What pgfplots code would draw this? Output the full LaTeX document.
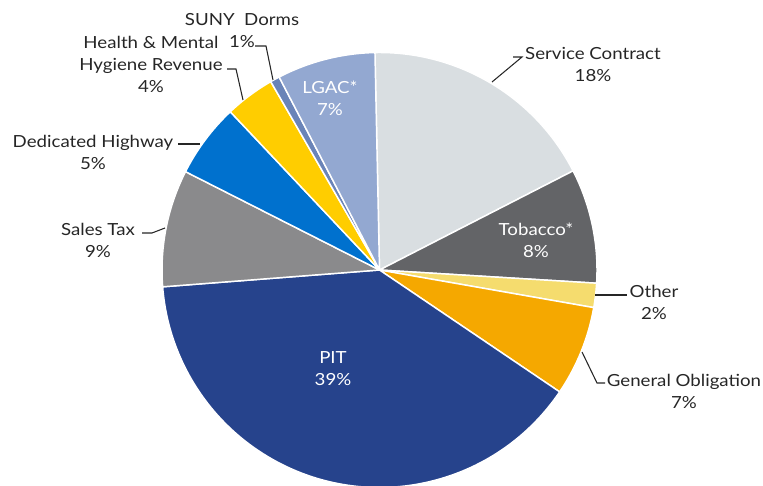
\documentclass[border=0pt]{standalone}
\usepackage{pgfplots}
\usepackage{pgfplotstable}
\pgfplotsset{compat=1.18}
\usepackage{fontspec}
\setmainfont{Lato}[FakeStretch=1.12]
\definecolor{cService}{HTML}{D9DEE1}
\definecolor{cTobacco}{HTML}{636467}
\definecolor{cOther}{HTML}{F5DC6E}
\definecolor{cGO}{HTML}{F5A800}
\definecolor{cPIT}{HTML}{26438C}
\definecolor{cSales}{HTML}{8A8A8C}
\definecolor{cHighway}{HTML}{0071CE}
\definecolor{cHealth}{HTML}{FFCD00}
\definecolor{cSUNY}{HTML}{6A84B8}
\definecolor{cLGAC}{HTML}{93A8D1}
\definecolor{txt}{HTML}{262626}
\pgfplotstableread{
value color
17.8 cService
8.5 cTobacco
1.8 cOther
6.7 cGO
39.3 cPIT
8.7 cSales
5.5 cHighway
3.7 cHealth
0.7 cSUNY
7.3 cLGAC
}\piedata
\begin{document}
\begin{tikzpicture}[font=\fontsize{12.5}{16.5}\selectfont]
\begin{axis}[
  x=0.75pt, y=0.75pt,
  xmin=0, xmax=763, ymin=0, ymax=485,
  enlargelimits=false,
  hide axis,
  clip=true,
]
\path (axis cs:0,0) rectangle (axis cs:763,485);
\pgfplotstablegetrowsof{\piedata}
\pgfmathtruncatemacro\nrows{\pgfplotsretval-1}
\def\cum{91.2}
\pgfplotsforeachungrouped \i in {0,...,\nrows}{%
  \pgfplotstablegetelem{\i}{value}\of\piedata \let\sliceval\pgfplotsretval
  \pgfplotstablegetelem{\i}{color}\of\piedata \let\slicecol\pgfplotsretval
  \pgfmathsetmacro\endang{\cum-3.6*\sliceval}%
  \pgfmathsetmacro\sx{379.5+217.5*cos(\cum)}%
  \pgfmathsetmacro\sy{215+217.5*sin(\cum)}%
  \edef\temp{\noexpand\fill[\slicecol, draw=white, line width=1.1pt, line join=round]
    (axis cs:379.5,215) -- (axis cs:\sx,\sy)
    arc[start angle=\cum, end angle=\endang, radius=163.125pt] -- cycle;}%
  \temp
  \global\let\cum\endang
}
% leader lines
\draw[txt, line width=0.8pt] (axis cs:255,439) -- (axis cs:266,439) -- (axis cs:273,405);
\draw[txt, line width=0.8pt] (axis cs:227,416) -- (axis cs:236,416) -- (axis cs:243,385);
\draw[txt, line width=0.8pt] (axis cs:178,341) -- (axis cs:200,341);
\draw[txt, line width=0.8pt] (axis cs:142,252) -- (axis cs:152,252) -- (axis cs:165,257);
\draw[txt, line width=0.8pt] (axis cs:513,428) -- (axis cs:522,428) -- (axis cs:492,403);
\draw[txt, line width=0.8pt] (axis cs:595,190) -- (axis cs:627,190);
\draw[txt, line width=0.8pt] (axis cs:582,133) -- (axis cs:597,102) -- (axis cs:605,102);
% outside labels
\node[txt, align=center] at (axis cs:242,454) {SUNY\ \ Dorms\\1\%};
\node[txt, align=center] at (axis cs:151,421) {Health \& Mental\\Hygiene Revenue\\4\%};
\node[txt, align=center] at (axis cs:93,333) {Dedicated Highway\\5\%};
\node[txt, align=center] at (axis cs:98,245) {Sales Tax\\9\%};
\node[txt, align=center] at (axis cs:593,421) {Service Contract\\18\%};
\node[txt, align=center] at (axis cs:654,183) {Other\\2\%};
\node[txt, align=center] at (axis cs:684,94) {General Obligation\\7\%};
% inside labels
\node[white, align=center] at (axis cs:330,387) {LGAC*\\7\%};
\node[white, align=center] at (axis cs:536,245) {Tobacco*\\8\%};
\node[white, align=center] at (axis cs:333,116) {PIT\\39\%};
\end{axis}
\end{tikzpicture}
\end{document}
